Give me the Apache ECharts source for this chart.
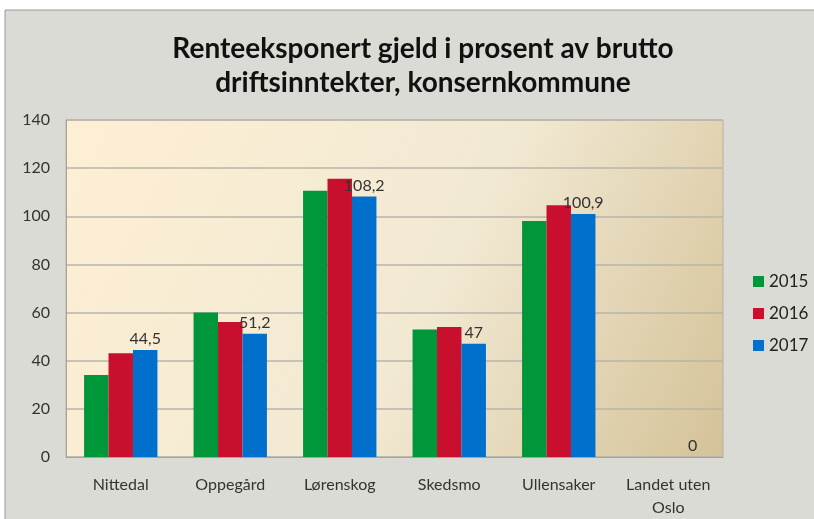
<!DOCTYPE html>
<html><head><meta charset="utf-8">
<script src="https://cdn.jsdelivr.net/npm/echarts@6/dist/echarts.min.js"></script>
<style>html,body{margin:0;padding:0;background:#fff}#c{width:814px;height:519px}</style>
</head><body><div id="c"></div>
<script>
const categories = ['Nittedal', 'Oppegård', 'Lørenskog', 'Skedsmo', 'Ullensaker', 'Landet uten\nOslo'];
const years = ['2015', '2016', '2017'];
const v2015 = [34.1, 60.0, 110.6, 53.0, 98.0, 0];
const v2016 = [43.1, 56.1, 115.6, 54.0, 104.6, 0];
const v2017 = [44.5, 51.2, 108.2, 47, 100.9, 0];
const yTicks = [0, 20, 40, 60, 80, 100, 120, 140];
const colors = ['#00963a', '#c8102e', '#0070cc'];

const chart = echarts.init(document.getElementById('c'));
const font = 'Lato, "Open Sans", sans-serif';
const mk = (name, data, i, label) => ({
  name, type: 'bar', data, barGap: '0%', barCategoryGap: '33%',
  itemStyle: { color: colors[i] },
  label: label ? { show: true, position: 'top', distance: 3, color: '#333', fontSize: 16, fontFamily: font,
    formatter: p => String(p.value).replace('.', ',') } : { show: false }
});
chart.setOption({
  animation: false,
  backgroundColor: '#fff',
  graphic: [{ type: 'rect', shape: { x: 5, y: 10, width: 820, height: 520 },
    style: { fill: '#dbdbd6', stroke: '#9a9a9a', lineWidth: 1 }, z: -10 }],
  title: {
    text: 'Renteeksponert gjeld i prosent av brutto\ndriftsinntekter, konsernkommune',
    left: 418, top: 27, textAlign: 'center',
    textStyle: { fontFamily: font, fontWeight: 'bold', fontSize: 28, lineHeight: 34, color: '#111' }
  },
  legend: {
    orient: 'vertical', left: 748, top: 268, itemWidth: 11, itemHeight: 11, itemGap: 15,
    icon: 'rect', textStyle: { fontFamily: font, fontSize: 17, color: '#222' },
    data: years
  },
  grid: { left: 66, top: 120, width: 657, height: 337, show: true,
    backgroundColor: new echarts.graphic.LinearGradient(0, 0, 1, 1, [
      { offset: 0, color: '#fdefd4' }, { offset: 0.55, color: '#f2e9d3' }, { offset: 1, color: '#d4c298' }]),
    borderColor: '#b5b1a8', borderWidth: 1 },
  xAxis: { type: 'category', data: categories,
    axisLine: { lineStyle: { color: '#a8a49c' } }, axisTick: { show: false },
    axisLabel: { fontFamily: font, fontSize: 16, color: '#333', margin: 16, lineHeight: 23, interval: 0 } },
  yAxis: { type: 'value', min: 0, max: 140, interval: 20,
    axisLine: { show: true, lineStyle: { color: '#a8a49c' } }, axisTick: { show: false },
    splitLine: { lineStyle: { color: '#b8b4aa', width: 1.5 } },
    axisLabel: { fontFamily: font, fontSize: 16, color: '#333', margin: 16,
      formatter: v => yTicks.includes(v) ? String(v) : '' } },
  series: [mk('2015', v2015, 0, false), mk('2016', v2016, 1, false), mk('2017', v2017, 2, true)]
});
</script></body></html>
